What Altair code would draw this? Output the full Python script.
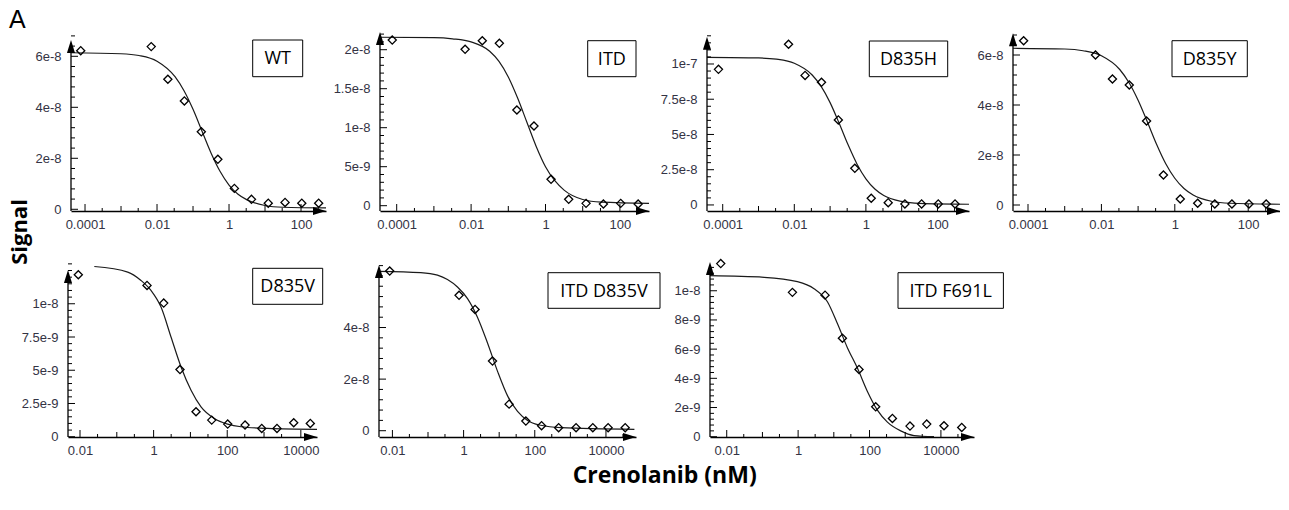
import math
import altair as alt
import pandas as pd

# ---------------- data ----------------
# top row: same dose series for WT, ITD, D835H, D835Y (nM)
top_doses = [7.6e-5, 0.0069, 0.020, 0.0575, 0.17, 0.49, 1.41, 4.2, 12.3, 36.0, 105.0, 309.0]
wt_signal = [6.22e-8, 6.38e-8, 5.10e-8, 4.25e-8, 3.04e-8, 1.96e-8, 8.2e-9, 3.9e-9, 2.4e-9, 2.7e-9, 2.4e-9, 2.4e-9]
itd_signal = [2.124e-8, 2.005e-8, 2.115e-8, 2.082e-8, 1.227e-8, 1.022e-8, 3.38e-9, 8.2e-10, 3.0e-10, 2.2e-10, 3.0e-10, 2.2e-10]
d835h_signal = [9.62e-8, 1.14e-7, 9.19e-8, 8.70e-8, 6.03e-8, 2.60e-8, 4.75e-9, 1.6e-9, 7e-10, 7e-10, 7e-10, 7e-10]
d835y_signal = [6.57e-8, 6.0e-8, 5.04e-8, 4.8e-8, 3.36e-8, 1.2e-8, 2.4e-9, 7e-10, 4e-10, 4e-10, 4e-10, 4e-10]

# fitted curves
top_curve_doses = [3.5e-5, 0.001, 0.00316, 0.01, 0.0316, 0.0562, 0.1, 0.178, 0.316, 0.562, 1.0, 1.78, 3.16, 10.0, 31.6, 800.0]
wt_curve = [6.14e-8, 6.10e-8, 6.03e-8, 5.81e-8, 5.20e-8, 4.65e-8, 3.92e-8, 3.06e-8, 2.21e-8, 1.49e-8, 9.5e-9, 5.9e-9, 3.7e-9, 1.5e-9, 8e-10, 5e-10]
itd_curve = [2.16e-8, 2.155e-8, 2.14e-8, 2.10e-8, 1.98e-8, 1.85e-8, 1.65e-8, 1.38e-8, 1.07e-8, 7.6e-9, 5.0e-9, 3.2e-9, 2.0e-9, 8e-10, 4.6e-10, 3e-10]
d835h_curve = [1.047e-7, 1.043e-7, 1.034e-7, 1.005e-7, 9.22e-8, 8.41e-8, 7.26e-8, 5.81e-8, 4.28e-8, 2.91e-8, 1.85e-8, 1.13e-8, 6.7e-9, 2.5e-9, 1.1e-9, 5e-10]
d835y_curve = [6.27e-8, 6.24e-8, 6.17e-8, 5.97e-8, 5.42e-8, 4.90e-8, 4.19e-8, 3.33e-8, 2.44e-8, 1.66e-8, 1.07e-8, 6.6e-9, 4.0e-9, 1.5e-9, 7e-10, 3e-10]

# bottom row
d835v_doses = [0.009, 0.662, 1.88, 5.21, 14.2, 37.9, 103, 305, 867, 2250, 6410, 18100]
d835v_signal = [1.218e-8, 1.138e-8, 1.005e-8, 5.05e-9, 1.88e-9, 1.25e-9, 9.5e-10, 8.75e-10, 6.25e-10, 6.25e-10, 1.05e-9, 1.0e-9]
d835v_curve_doses = [0.0245, 0.198, 0.455, 0.849, 1.59, 2.97, 5.56, 10.4, 19.4, 44.6, 103, 237, 1260, 35400]
d835v_curve = [1.28e-8, 1.238e-8, 1.175e-8, 1.10e-8, 9.75e-9, 7.5e-9, 5.25e-9, 3.5e-9, 2.25e-9, 1.375e-9, 9.5e-10, 7.5e-10, 6.25e-10, 5.5e-10]

itd_d835v_doses = [0.0084, 0.746, 2.10, 6.49, 19.0, 56.1, 155, 468, 1445, 4270, 11500, 34700]
itd_d835v_signal = [6.19e-8, 5.25e-8, 4.70e-8, 2.70e-8, 1.03e-8, 3.74e-9, 1.94e-9, 1.16e-9, 1.16e-9, 1.16e-9, 1.16e-9, 1.16e-9]
itd_d835v_curve_doses = [0.0042, 0.0625, 0.1845, 0.352, 0.673, 1.29, 2.45, 4.7, 9.0, 17.2, 32.8, 62.7, 148, 537, 63000]
itd_d835v_curve = [6.18e-8, 6.13e-8, 6.03e-8, 5.86e-8, 5.57e-8, 5.12e-8, 4.40e-8, 3.40e-8, 2.30e-8, 1.35e-8, 7.5e-9, 4.0e-9, 2.1e-9, 1.16e-9, 5.2e-10]

itd_f691l_doses = [0.00679, 0.692, 5.68, 17.4, 50.8, 149, 438, 1360, 4000, 12200, 38300]
itd_f691l_signal = [1.186e-8, 9.89e-9, 9.70e-9, 6.75e-9, 4.61e-9, 2.05e-9, 1.25e-9, 7.27e-10, 8.64e-10, 7.5e-10, 6.36e-10]
itd_f691l_curve_doses = [0.0034, 0.111, 0.955, 2.79, 6.62, 12.6, 24.0, 45.8, 87.3, 166, 317, 748, 1760, 6410]
itd_f691l_curve = [1.103e-8, 1.092e-8, 1.062e-8, 1.014e-8, 9.25e-9, 7.75e-9, 6.1e-9, 4.7e-9, 3.1e-9, 1.82e-9, 1.0e-9, 4.0e-10, 8e-11, 0.0]

# tick labels
top_xlabels = [1e-4, 1e-2, 1.0, 100.0]
bottom_xlabels = [1e-2, 1.0, 100.0, 10000.0]
wt_yticks = [0, 2e-8, 4e-8, 6e-8]
itd_yticks = [0, 5e-9, 1e-8, 1.5e-8, 2e-8]
d835h_yticks = [0, 2.5e-8, 5e-8, 7.5e-8, 1e-7]
d835y_yticks = [0, 2e-8, 4e-8, 6e-8]
d835v_yticks = [0, 2.5e-9, 5e-9, 7.5e-9, 1e-8]
itd_d835v_yticks = [0, 2e-8, 4e-8]
itd_f691l_yticks = [0, 2e-9, 4e-9, 6e-9, 8e-9, 1e-8]

# ---------------- styling ----------------
AX_FONT = "Liberation Sans"
AX_COLOR = "#333344"
BOX_FONT = "Open Sans"
UP = "M0,-1L0.62,1L-0.62,1Z"
RIGHT = "M1,0L-1,-0.62L-1,0.62Z"


def decades(lo, hi):
    out = []
    e = math.floor(math.log10(lo))
    while 10.0 ** e <= hi:
        if 10.0 ** e >= lo:
            out.append(10.0 ** e)
        e += 1
    return out


def panel(label, doses, signal, cdoses, csignal, xdom, ydom, yvals, ystep,
          width, height, box, tip, xlabels, extras=()):
    pts = pd.DataFrame({"dose": doses, "signal": signal})
    crv = pd.DataFrame({"dose": cdoses, "signal": csignal})
    one = pd.DataFrame({"k": [0]})

    xs = alt.Scale(type="log", domain=list(xdom), nice=False)
    ys = alt.Scale(domain=list(ydom), nice=False, zero=False)
    xax = alt.Axis(values=xlabels, labelExpr="format(datum.value, '~f')", ticks=False,
                   grid=False, domain=True, domainColor="black", domainWidth=1.3,
                   labelPadding=7, labelFont=AX_FONT, labelFontSize=13, labelColor=AX_COLOR,
                   labelFlush=False, labelOverlap=False, title=None)
    yax = alt.Axis(values=yvals,
                   labelExpr="datum.value == 0 ? '0' : format(datum.value, '~e')",
                   ticks=False, grid=False, domain=False, labelPadding=10,
                   labelFont=AX_FONT, labelFontSize=13, labelColor=AX_COLOR,
                   labelFlush=False, labelOverlap=False, title=None)

    curve = alt.Chart(crv).mark_line(color="#1a1a1a", strokeWidth=1.2,
                                     interpolate="monotone", clip=True).encode(
        x=alt.X("dose:Q", scale=xs, axis=xax), y=alt.Y("signal:Q", scale=ys, axis=yax))
    points = alt.Chart(pts).mark_point(shape="diamond", filled=False, size=66, color="black",
                                       strokeWidth=1.3, opacity=1).encode(
        x=alt.X("dose:Q", scale=xs, axis=xax), y=alt.Y("signal:Q", scale=ys, axis=yax))

    # inward ticks
    dec = decades(xdom[0], xdom[1])
    big = [d for d in dec if any(abs(math.log10(d) - math.log10(l)) < 1e-9 for l in xlabels)]
    mid = [d for d in dec if d not in big]
    minor = [3 * d for d in decades(xdom[0] / 3, xdom[1] / 3)]
    layers = [curve, points]
    for vals, ln in ((big, 7), (mid, 5), (minor, 3)):
        if vals:
            layers.append(alt.Chart(pd.DataFrame({"v": vals})).mark_rule(color="black", strokeWidth=1).encode(
                x=alt.X("v:Q", scale=xs, axis=xax), y=alt.value(height), y2=alt.value(height - ln)))
    nmin = int(ydom[1] / ystep + 1e-6) + 1
    yminor = [i * ystep for i in range(nmin)]
    yminor = [v for v in yminor if all(abs(v - m) > ystep * 0.01 for m in yvals)]
    for vals, ln in ((list(yvals), 7), (yminor, 4)):
        layers.append(alt.Chart(pd.DataFrame({"v": vals})).mark_rule(color="black", strokeWidth=1).encode(
            y=alt.Y("v:Q", scale=ys, axis=yax), x=alt.value(0), x2=alt.value(ln)))

    layers.append(alt.Chart(one).mark_rule(color="black", strokeWidth=1.3).encode(
        x=alt.value(0), y=alt.value(tip + 8), y2=alt.value(height)))
    layers.append(alt.Chart(one).mark_point(shape=UP, size=169, filled=True, color="black",
                                            opacity=1).encode(x=alt.value(0), y=alt.value(tip + 6.5)))
    layers.append(alt.Chart(one).mark_point(shape=RIGHT, size=169, filled=True, color="black",
                                            opacity=1).encode(x=alt.value(width - 6.5), y=alt.value(height)))

    bx0, by0, bx1, by1 = box
    layers.append(alt.Chart(one).mark_rect(fill="white", stroke="black", strokeWidth=1).encode(
        x=alt.value(bx0), x2=alt.value(bx1), y=alt.value(by0), y2=alt.value(by1)))
    layers.append(alt.Chart(one).mark_text(text=label, font=BOX_FONT, fontSize=18, color="black",
                                           align="center", baseline="middle").encode(
        x=alt.value((bx0 + bx1) / 2), y=alt.value((by0 + by1) / 2 + 1)))
    layers.extend(extras)
    return alt.layer(*layers).properties(width=width, height=height)


one_row = pd.DataFrame({"k": [0]})
extra_a = alt.Chart(one_row).mark_text(text="A", font=AX_FONT, fontSize=25, color="black",
                                       align="left", baseline="top").encode(
    x=alt.value(-62), y=alt.value(-24))
extra_signal = alt.Chart(one_row).mark_text(text="Signal", font="Open Sans", fontSize=22,
                                            fontWeight="bold", color="black", angle=270,
                                            align="center", baseline="middle").encode(
    x=alt.value(-51.5), y=alt.value(200))
extra_xtitle = alt.Chart(one_row).mark_text(text="Crenolanib (nM)", font="Open Sans", fontSize=23,
                                            fontWeight="bold", color="black",
                                            align="center", baseline="middle").encode(
    x=alt.value(285.7), y=alt.value(214))

TH, BH = 179, 175
p1 = panel("WT", top_doses, wt_signal, top_curve_doses, wt_curve,
           (4.08e-5, 494), (-0.067e-8, 6.953e-8), wt_yticks, 4e-9,
           255, TH, (181.7, 8, 231.7, 44.7), 8, top_xlabels, (extra_a, extra_signal))
p2 = panel("ITD", top_doses, itd_signal, top_curve_doses, itd_curve,
           (3.56e-5, 605), (-0.068e-8, 2.227e-8), itd_yticks, 1e-9,
           269, TH, (207.7, 8.7, 256, 44.7), 0, top_xlabels)
p3 = panel("D835H", top_doses, d835h_signal, top_curve_doses, d835h_curve,
           (3.64e-5, 759), (-0.43e-8, 12.27e-8), d835h_yticks, 5e-9,
           262, TH, (162.3, 9, 240.7, 44.7), 4.7, top_xlabels)
p4 = panel("D835Y", top_doses, d835y_signal, top_curve_doses, d835y_curve,
           (3.9e-5, 735), (-0.24e-8, 6.92e-8), d835y_yticks, 4e-9,
           267, TH, (159, 8.7, 234.3, 44.7), 1.3, top_xlabels)
p5 = panel("D835V", d835v_doses, d835v_signal, d835v_curve_doses, d835v_curve,
           (4.72e-3, 27500), (-0.02e-9, 13.14e-9), d835v_yticks, 5e-10,
           249, BH, (184.7, 6.3, 254.7, 42.3), 8, bottom_xlabels)
p6 = panel("ITD D835V", itd_d835v_doses, itd_d835v_signal, itd_d835v_curve_doses, itd_d835v_curve,
           (4.2e-3, 69800), (-0.244e-8, 6.54e-8), itd_d835v_yticks, 4e-9,
           257, BH, (169, 10.7, 281, 46.3), 3, bottom_xlabels, (extra_xtitle,))
p7 = panel("ITD F691L", itd_f691l_doses, itd_f691l_signal, itd_f691l_curve_doses, itd_f691l_curve,
           (3.4e-3, 84500), (-0.02e-9, 11.97e-9), itd_f691l_yticks, 4e-10,
           264, BH, (188, 10.7, 293.4, 46.3), 0, bottom_xlabels)


def spacer(w, h):
    return alt.Chart(pd.DataFrame({"k": [0]})).mark_point(opacity=0).properties(width=w, height=h)


top = alt.hconcat(spacer(3, TH), p1, spacer(54, TH), p2, spacer(58, TH), p3, spacer(44, TH), p4,
                  spacing=0, bounds="flush")
bottom = alt.hconcat(p5, spacer(62, BH), p6, spacer(74, BH), p7, spacing=0, bounds="flush")
# the nested row groups report no height under flush bounds, so the spacing is the
# full distance from the top of row 1 to the top of row 2
chart = alt.vconcat(top, bottom, spacing=TH + 51, bounds="flush").properties(
    padding=0).configure_view(strokeWidth=0)

chart.save("out.html", embed_options={"renderer": "svg", "actions": False})
